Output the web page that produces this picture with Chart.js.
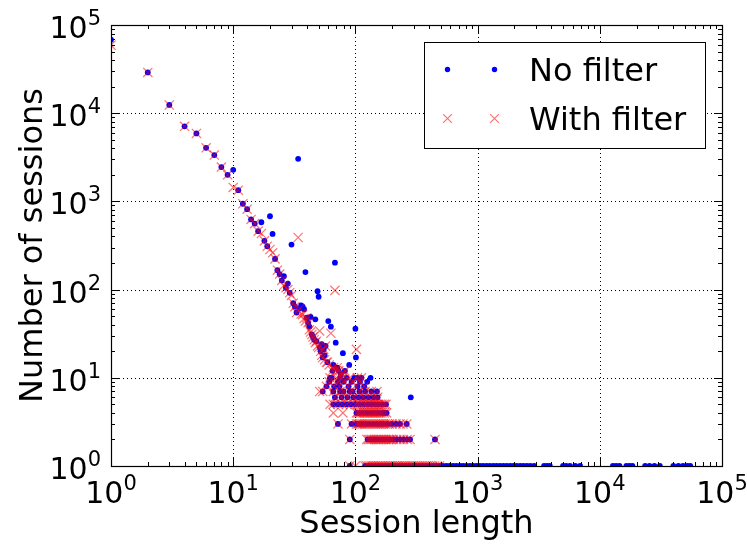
<!DOCTYPE html>
<html>
<head>
<meta charset="utf-8">
<script src="https://cdn.jsdelivr.net/npm/chart.js@4.4.0/dist/chart.umd.min.js"></script>
<style>
  html, body { margin: 0; padding: 0; background: #fff; }
  #wrap { width: 747px; height: 545px; }
</style>
</head>
<body>
<div id="wrap"><canvas id="sessionChart" width="747" height="545"></canvas></div>
<script>
// decade tick labels (10^0 .. 10^5)
const decades = [1, 10, 100, 1000, 10000, 100000];
const decadeExp = ["0", "1", "2", "3", "4", "5"];

// "No filter": session length -> number of sessions
const noFilterLen = [1, 2, 3, 4, 5, 6, 7, 8, 9, 10, 11, 12, 13, 14, 15, 16, 17, 18, 19, 20,
  21, 22, 23, 24, 25, 26, 27, 28, 29, 30, 31, 32, 33, 34, 35, 36, 37, 38, 39, 40,
  41, 42, 43, 44, 45, 46, 47, 48, 49, 50, 51, 52, 53, 54, 55, 56, 57, 59, 60, 63,
  65, 66, 68, 69, 71, 73, 76, 79, 82, 89, 100, 101];
const noFilterCount = [68000, 29000, 12400, 7100, 5900, 4050, 3350, 2450, 2000, 2280, 1340, 940, 816, 625, 560, 460, 580, 357, 310, 679,
  428, 223, 166, 150, 127, 142, 105, 117, 92, 324, 70, 64, 55, 3040, 61, 66, 64, 60, 158, 48,
  42, 38, 49, 31, 29, 27, 46, 26, 96, 83, 22, 20, 24, 17, 21, 18, 23, 15, 44, 38,
  12, 14, 202, 25, 13, 12, 11, 19, 12, 14, 36, 17];

// "No filter": lengths that have a small count (rows of 10 down to 1)
const noFilterTens = [62, 64, 75, 85, 98, 104, 112, 133];
const noFilterNines = [61, 72, 80, 93, 109, 125];
const noFilterEights = [58, 67, 74, 88, 104, 118];
const noFilterSevens = [54, 66, 75, 80, 90, 95, 108, 120, 135, 150];
const noFilterSixes = [68, 77, 86, 96, 106, 116, 128, 141, 152, 284];
const noFilterFives = [66, 72, 78, 85, 92, 100, 108, 117, 126, 135, 145, 155, 165, 178];
const noFilterFours = [102, 108, 115, 122, 130, 138, 146, 155, 165, 172, 180];
const noFilterThrees = [72, 93, 102, 108, 114, 122, 130, 140, 150, 160, 170, 182, 198, 215, 232, 263];
const noFilterTwos = [90, 126, 134, 142, 150, 160, 170, 180, 192, 205, 218, 232, 248, 265, 280, 448];
const noFilterOnes = [90, 120, 128, 136, 145, 155, 165, 176, 188, 200, 213, 227, 242, 258, 275, 293,
  312, 333, 355, 378, 403, 430, 458, 488, 520, 555, 590, 630, 670, 715, 760, 810, 865, 920,
  980, 1045, 1110, 1185, 1260, 1345, 1430, 1525, 1625, 1730, 1845, 1960, 2090, 2230, 2370,
  2530, 2700, 2900, 3500, 3700, 3900, 5000, 5300, 5700, 6300, 6900, 12800, 13600, 14500,
  16500, 17500, 18500, 23500, 25500, 28000, 31000, 40000, 44000, 48000, 52000, 55000];

// "With filter"
const withFilterLen = [1, 2, 3, 4, 5, 6, 7, 8, 9, 10, 11, 12, 13, 14, 15, 16, 17, 18, 19, 20,
  21, 22, 23, 24, 25, 26, 27, 28, 29, 30, 31, 32, 33, 34, 35, 36, 37, 38, 39, 40,
  41, 42, 43, 44, 45, 46, 47, 48, 49, 50, 51, 52, 53, 54, 55, 56, 57, 58, 59, 61,
  63, 65, 66, 68, 69, 71, 73, 76, 79, 82, 102];
const withFilterCount = [59000, 29000, 12400, 7100, 5900, 4050, 3350, 2450, 2000, 1440, 1340, 940, 816, 625, 560, 460, 433, 357, 310, 285,
  261, 223, 166, 150, 127, 112, 105, 100, 92, 86, 70, 64, 55, 390, 61, 53, 52, 47, 44, 48,
  42, 35, 33, 31, 29, 27, 25, 26, 23, 22, 34, 20, 18, 17, 21, 16, 23, 15, 15, 14,
  32, 12, 13, 98, 12, 13, 12, 11, 11, 12, 21];

const withFilterTens = [62, 70, 78, 90, 104, 112];
const withFilterNines = [61, 72, 80, 93, 109];
const withFilterEights = [58, 67, 74, 88, 104, 118];
const withFilterSevens = [51, 54, 66, 75, 80, 90, 95, 108, 120, 135, 150];
const withFilterSixes = [68, 77, 86, 96, 106, 116, 128, 141, 152];
const withFilterFives = [62, 66, 72, 78, 85, 92, 100, 104, 108, 112, 117, 121, 126, 130, 135, 140, 145, 150, 155, 160, 165, 172, 178];
const withFilterFours = [66, 79, 102, 105, 108, 111, 115, 118, 122, 126, 130, 134, 138, 142, 146, 150, 155, 160, 165, 172, 180];
const withFilterThrees = [72, 93, 102, 105, 108, 111, 114, 118, 122, 126, 130, 135, 140, 145, 150, 155, 160, 165, 170, 176, 182, 190, 198, 215, 232, 245, 263];
const withFilterTwos = [90, 124, 128, 132, 136, 140, 145, 150, 155, 160, 165, 170, 175, 180, 186, 192, 198, 205, 218, 232, 248, 265, 280, 448];
const withFilterOnes = [90, 100, 120, 124, 128, 132, 136, 140, 145, 150, 155, 160, 165, 170, 176, 182, 188, 194, 200,
  207, 214, 221, 228, 236, 244, 252, 260, 270, 280, 290, 300, 312, 324, 336, 350, 364, 378, 393, 410, 428, 446, 466, 488];

const FONT = '"DejaVu Sans", "Liberation Sans", sans-serif';

function pairPoints(lens, counts) {
  return lens.map((x, i) => ({ x: x, y: counts[i] }));
}
// rows[i] holds lengths whose count is (10 - i)
function rowPoints(rows) {
  const pts = [];
  rows.forEach((row, i) => row.forEach(x => pts.push({ x: x, y: 10 - i })));
  return pts;
}

const noFilterData = pairPoints(noFilterLen, noFilterCount).concat(rowPoints([
  noFilterTens, noFilterNines, noFilterEights, noFilterSevens, noFilterSixes,
  noFilterFives, noFilterFours, noFilterThrees, noFilterTwos, noFilterOnes]));
const withFilterData = pairPoints(withFilterLen, withFilterCount).concat(rowPoints([
  withFilterTens, withFilterNines, withFilterEights, withFilterSevens, withFilterSixes,
  withFilterFives, withFilterFours, withFilterThrees, withFilterTwos, withFilterOnes]));

// draws 10 with a raised exponent
function drawPower(ctx, exp, x, y, align) {
  ctx.font = '30px ' + FONT;
  const wBase = ctx.measureText('10').width;
  ctx.font = '21px ' + FONT;
  const wExp = ctx.measureText(exp).width;
  const total = wBase + wExp;
  const left = align === 'center' ? x - total / 2 : x - total;
  ctx.textAlign = 'left';
  ctx.textBaseline = 'alphabetic';
  ctx.font = '30px ' + FONT;
  ctx.fillText('10', left, y);
  ctx.font = '21px ' + FONT;
  ctx.fillText(exp, left + wBase, y - 13);
}

function drawDot(ctx, x, y) {
  ctx.fillStyle = 'blue';
  ctx.beginPath();
  ctx.arc(x, y, 2.7, 0, Math.PI * 2);
  ctx.fill();
}
function drawCross(ctx, x, y) {
  const d = 4.4;
  ctx.strokeStyle = 'rgba(255,0,0,0.55)';
  ctx.lineWidth = 1.2;
  ctx.beginPath();
  ctx.moveTo(x - d, y - d); ctx.lineTo(x + d, y + d);
  ctx.moveTo(x - d, y + d); ctx.lineTo(x + d, y - d);
  ctx.stroke();
}

const mplAxes = {
  id: 'mplAxes',
  beforeDatasetsDraw(chart) {
    const { ctx, chartArea: a, scales: { x: xs, y: ys } } = chart;
    ctx.save();
    ctx.strokeStyle = '#000';
    ctx.lineWidth = 1;
    ctx.setLineDash([1, 3]);
    decades.forEach(v => {
      const px = Math.round(xs.getPixelForValue(v)) + 0.5;
      const py = Math.round(ys.getPixelForValue(v)) + 0.5;
      ctx.beginPath();
      ctx.moveTo(px, a.top); ctx.lineTo(px, a.bottom);
      ctx.moveTo(a.left, py); ctx.lineTo(a.right, py);
      ctx.stroke();
    });
    ctx.restore();
  },
  afterDatasetsDraw(chart) {
    const { ctx, chartArea: a, scales: { x: xs, y: ys } } = chart;
    ctx.save();
    ctx.strokeStyle = '#000';
    ctx.lineWidth = 1;
    // inward ticks on all four sides
    ctx.beginPath();
    decades.forEach((v, i) => {
      for (let m = 1; m <= 9; m++) {
        if (m > 1 && i === decades.length - 1) break;
        const val = v * m;
        const len = m === 1 ? 8 : 4;
        const px = Math.round(xs.getPixelForValue(val)) + 0.5;
        const py = Math.round(ys.getPixelForValue(val)) + 0.5;
        ctx.moveTo(px, a.bottom); ctx.lineTo(px, a.bottom - len);
        ctx.moveTo(px, a.top); ctx.lineTo(px, a.top + len);
        ctx.moveTo(a.left, py); ctx.lineTo(a.left + len, py);
        ctx.moveTo(a.right, py); ctx.lineTo(a.right - len, py);
      }
    });
    ctx.stroke();
    // frame
    ctx.lineWidth = 1.2;
    ctx.strokeRect(Math.round(a.left) + 0.5, Math.round(a.top) + 0.5,
      Math.round(a.right - a.left), Math.round(a.bottom - a.top));

    // tick labels
    ctx.fillStyle = '#000';
    decades.forEach((v, i) => {
      drawPower(ctx, decadeExp[i], xs.getPixelForValue(v), a.bottom + 37, 'center');
      drawPower(ctx, decadeExp[i], a.left - 10, ys.getPixelForValue(v) + 13, 'right');
    });

    // axis titles
    ctx.font = '32px ' + FONT;
    ctx.textAlign = 'center';
    ctx.textBaseline = 'alphabetic';
    ctx.fillText('Session length', (a.left + a.right) / 2, 533);
    ctx.save();
    ctx.translate(42, (a.top + a.bottom) / 2);
    ctx.rotate(-Math.PI / 2);
    ctx.fillText('Number of sessions', 0, 0);
    ctx.restore();

    // legend
    ctx.fillStyle = '#fff';
    ctx.fillRect(424.5, 42.5, 281, 106);
    ctx.strokeStyle = '#000';
    ctx.lineWidth = 1;
    ctx.strokeRect(424.5, 42.5, 281, 106);
    drawDot(ctx, 447.5, 69.5);
    drawDot(ctx, 494.5, 69.5);
    drawCross(ctx, 447.5, 118.5);
    drawCross(ctx, 494.5, 118.5);
    ctx.fillStyle = '#000';
    ctx.font = '32px ' + FONT;
    ctx.textAlign = 'left';
    ctx.fillText(chart.data.datasets[0].label, 529, 81);
    ctx.fillText(chart.data.datasets[1].label, 529, 130);
    ctx.restore();
  }
};

const ctx = document.getElementById('sessionChart').getContext('2d');
const chart = new Chart(ctx, {
  type: 'scatter',
  data: {
    datasets: [{
      label: 'No filter',
      data: noFilterData,
      pointStyle: 'circle',
      pointRadius: 2.9,
      pointBackgroundColor: 'blue',
      pointBorderColor: 'blue',
      pointBorderWidth: 0,
      clip: 0,
      order: 2
    }, {
      label: 'With filter',
      data: withFilterData,
      pointStyle: 'crossRot',
      pointRadius: 6.5,
      pointBorderColor: 'rgba(255,0,0,0.55)',
      pointBackgroundColor: 'rgba(255,0,0,0.55)',
      pointBorderWidth: 1.2,
      clip: 0,
      order: 1
    }]
  },
  options: {
    responsive: false,
    animation: false,
    devicePixelRatio: 1,
    events: [],
    layout: { padding: { top: 25, right: 25, left: 0, bottom: 0 } },
    plugins: { legend: { display: false }, tooltip: { enabled: false } },
    scales: {
      x: {
        type: 'logarithmic',
        min: 1, max: 100000,
        grid: { display: false },
        border: { display: false },
        ticks: { display: false },
        afterFit: s => { s.height = 79; }
      },
      y: {
        type: 'logarithmic',
        min: 1, max: 100000,
        grid: { display: false },
        border: { display: false },
        ticks: { display: false },
        afterFit: s => { s.width = 111; }
      }
    }
  },
  plugins: [mplAxes]
});
</script>
</body>
</html>
